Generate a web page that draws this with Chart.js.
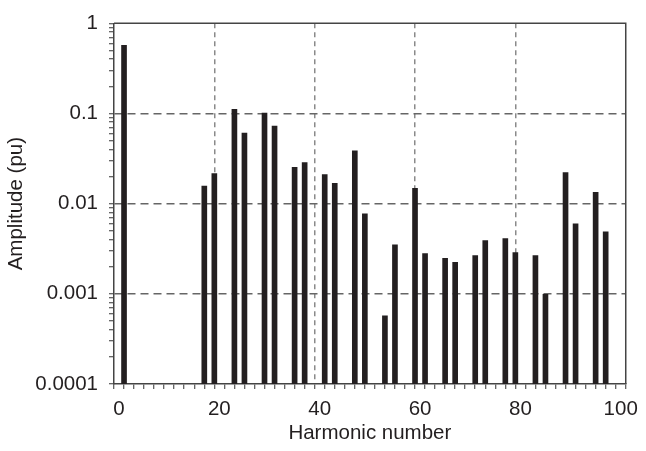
<!DOCTYPE html>
<html lang="en">
<head>
    <meta charset="UTF-8">
    <title>Harmonic spectrum</title>
    <script src="https://cdn.jsdelivr.net/npm/chart.js"></script>
    <style>
        html, body { margin: 0; padding: 0; background: #fff; }
        #wrap { width: 646px; height: 451px; }
    </style>
</head>
<body>
<div id="wrap"><canvas id="spectrum" width="646" height="451"></canvas></div>

<script>
    // Harmonic orders and their amplitudes (pu)
    var harmonics = [1, 17, 19, 23, 25, 29, 31, 35, 37, 41, 43, 47, 49, 53, 55,
                     59, 61, 65, 67, 71, 73, 77, 79, 83, 85, 89, 91, 95, 97];
    var amplitude = [0.57, 0.0157, 0.0216, 0.111, 0.0608, 0.101, 0.0725, 0.0253, 0.0285,
                     0.021, 0.0168, 0.0386, 0.0077, 0.00057, 0.0035, 0.0148, 0.0028,
                     0.00247, 0.00223, 0.00266, 0.00389, 0.00409, 0.00287, 0.00266,
                     0.00099, 0.0221, 0.00596, 0.01337, 0.00487];
    var xTickLabels = [0, 20, 40, 60, 80, 100];
    var yTickLabels = [0.0001, 0.001, 0.01, 0.1, 1];

    var FONT = { family: 'Liberation Sans, Arial, Helvetica, sans-serif', size: 20.5 };
    var INK = '#231f20';

    function isDecade(v) {
        var l = Math.log10(v);
        return Math.abs(l - Math.round(l)) < 1e-6;
    }

    // top and right edges of the frame
    var frame = {
        id: 'frame',
        afterDraw: function (chart) {
            var a = chart.chartArea, ctx = chart.ctx;
            ctx.save();
            ctx.strokeStyle = '#444';
            ctx.lineWidth = 1.5;
            ctx.beginPath();
            ctx.moveTo(a.left, a.top);
            ctx.lineTo(a.right, a.top);
            ctx.lineTo(a.right, a.bottom);
            ctx.stroke();
            ctx.restore();
        }
    };

    var points = harmonics.map(function (h, i) { return { x: h, y: amplitude[i] }; });

    new Chart(document.getElementById('spectrum'), {
        type: 'bar',
        data: {
            datasets: [{
                data: points,
                backgroundColor: INK,
                borderWidth: 0,
                barThickness: 5
            }]
        },
        options: {
            responsive: false,
            animation: false,
            layout: { padding: { left: 0, top: 19, right: 18, bottom: 0 } },
            plugins: { legend: { display: false }, tooltip: { enabled: false } },
            scales: {
                x: {
                    type: 'linear',
                    min: 0,
                    max: 100,
                    afterFit: function (s) { s.height = 67; },
                    border: { display: true, color: '#444', width: 1.5, dash: [5, 4] },
                    grid: {
                        color: function (c) {
                            var v = c.tick ? c.tick.value : 0;
                            return (v % 20 === 0 && v > 0 && v < 100) ? '#8a8a8a' : 'rgba(0,0,0,0)';
                        },
                        lineWidth: 1.5,
                        drawTicks: true,
                        tickLength: 5,
                        tickColor: '#333',
                        tickWidth: 1,
                        tickBorderDash: []
                    },
                    ticks: {
                        stepSize: 2,
                        autoSkip: false,
                        maxRotation: 0,
                        padding: 8,
                        color: INK,
                        font: FONT,
                        callback: function (v) {
                            return xTickLabels.indexOf(v) >= 0 ? String(v) : '';
                        }
                    },
                    title: {
                        display: true,
                        text: 'Harmonic number',
                        color: INK,
                        font: FONT,
                        padding: { top: 0, bottom: 5 }
                    }
                },
                y: {
                    type: 'logarithmic',
                    min: yTickLabels[0],
                    max: yTickLabels[yTickLabels.length - 1],
                    afterFit: function (s) { s.width = 114; },
                    // one tick per 1..9 x 10^n, labels only on the decades
                    afterBuildTicks: function (s) {
                        var t = [];
                        for (var i = 0; i < yTickLabels.length - 1; i++) {
                            for (var k = 1; k < 10; k++) t.push({ value: k * yTickLabels[i] });
                        }
                        t.push({ value: yTickLabels[yTickLabels.length - 1] });
                        s.ticks = t;
                    },
                    border: { display: true, color: '#444', width: 1.5, dash: [8, 5] },
                    grid: {
                        color: function (c) {
                            var v = c.tick ? c.tick.value : 1;
                            return (isDecade(v) && v > 0.0002 && v < 0.5) ? '#666' : 'rgba(0,0,0,0)';
                        },
                        lineWidth: 1.5,
                        drawTicks: true,
                        tickLength: 5,
                        tickColor: '#333',
                        tickWidth: 1,
                        tickBorderDash: []
                    },
                    ticks: {
                        autoSkip: false,
                        padding: 11,
                        color: INK,
                        font: FONT,
                        callback: function (v) {
                            if (!isDecade(v)) return '';
                            var n = Math.round(Math.log10(v));
                            return n >= 0 ? String(Math.pow(10, n)) : Math.pow(10, n).toFixed(-n);
                        }
                    },
                    title: {
                        display: true,
                        text: 'Amplitude (pu)',
                        color: INK,
                        font: FONT,
                        padding: { top: 4, bottom: 0 }
                    }
                }
            }
        },
        plugins: [frame]
    });
</script>
</body>
</html>
